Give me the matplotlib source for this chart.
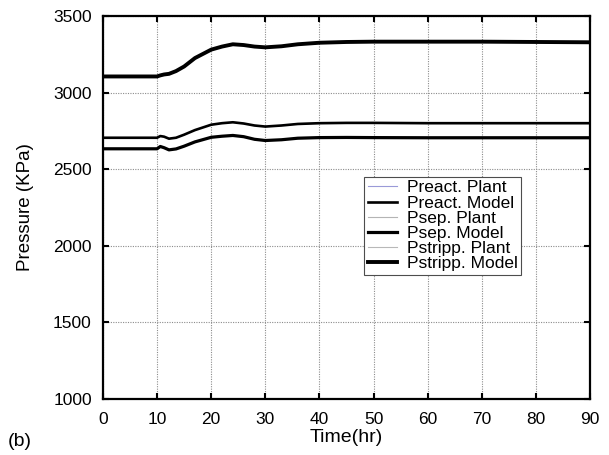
"""Pressure trajectories (plant vs model) - panel (b)."""
import matplotlib
matplotlib.use("Agg")
import matplotlib.pyplot as plt

plt.rcParams["font.family"] = ["Liberation Sans", "DejaVu Sans"]

# time axis (hr) and pressures (kPa)
t = [0, 10, 10.6, 11.3, 12.2, 13.5, 15, 17, 20, 22, 24, 26, 28, 30,
     33, 36, 40, 45, 50, 60, 70, 80, 90]

preact_model = [2705, 2705, 2716, 2712, 2699, 2705, 2725, 2755, 2790, 2800,
                2806, 2798, 2785, 2778, 2785, 2795, 2800, 2802, 2802, 2800,
                2800, 2800, 2800]
preact_plant = list(preact_model)

psep_model = [2633, 2633, 2648, 2640, 2626, 2632, 2650, 2678, 2708, 2715,
              2720, 2712, 2695, 2687, 2692, 2702, 2706, 2707, 2706, 2705,
              2705, 2705, 2705]
psep_plant = list(psep_model)

pstripp_model = [3105, 3105, 3112, 3118, 3122, 3140, 3170, 3225, 3280, 3300,
                 3315, 3310, 3300, 3295, 3302, 3315, 3325, 3330, 3332, 3332,
                 3332, 3330, 3328]
pstripp_plant = list(pstripp_model)

xticks = list(range(0, 91, 10))
yticks = list(range(1000, 3501, 500))

fig = plt.figure(figsize=(6.09, 4.55), dpi=100)
ax = fig.add_axes([0.169, 0.123, 0.800, 0.842])

ax.plot(t, preact_plant, color="#9a9ad8", lw=0.8, label="Preact. Plant")
ax.plot(t, preact_model, color="black", lw=1.9, label="Preact. Model")
ax.plot(t, psep_plant, color="#b4b4b4", lw=0.8, label="Psep. Plant")
ax.plot(t, psep_model, color="black", lw=2.3, label="Psep. Model")
ax.plot(t, pstripp_plant, color="#b8b8b8", lw=0.8, label="Pstripp. Plant")
ax.plot(t, pstripp_model, color="black", lw=2.8, label="Pstripp. Model")

ax.set_xlim(0, 90)
ax.set_ylim(1000, 3500)
ax.set_xticks(xticks)
ax.set_yticks(yticks)
ax.grid(True, color="0.55", linestyle=(0, (1, 1.2)), linewidth=0.8)
ax.tick_params(direction="in", length=4, width=1.5, top=True, right=True,
               labelsize=12.5, pad=8)
ax.tick_params(axis="x", pad=9)
for sp in ax.spines.values():
    sp.set_linewidth(1.6)

ax.set_xlabel("Time(hr)", fontsize=14, labelpad=2)
ax.set_ylabel("Pressure (KPa)", fontsize=13.5, labelpad=14)
fig.text(0.013, 0.02, "(b)", fontsize=14)

leg = ax.legend(loc="upper left", bbox_to_anchor=(0.536, 0.580), fontsize=12.5,
                frameon=True, fancybox=False, framealpha=1, edgecolor="0.3",
                handlelength=1.7, handletextpad=0.55, labelspacing=0.0,
                borderpad=0.2, borderaxespad=0)
leg.get_frame().set_linewidth(0.8)

fig.savefig("out.png", dpi=100)
